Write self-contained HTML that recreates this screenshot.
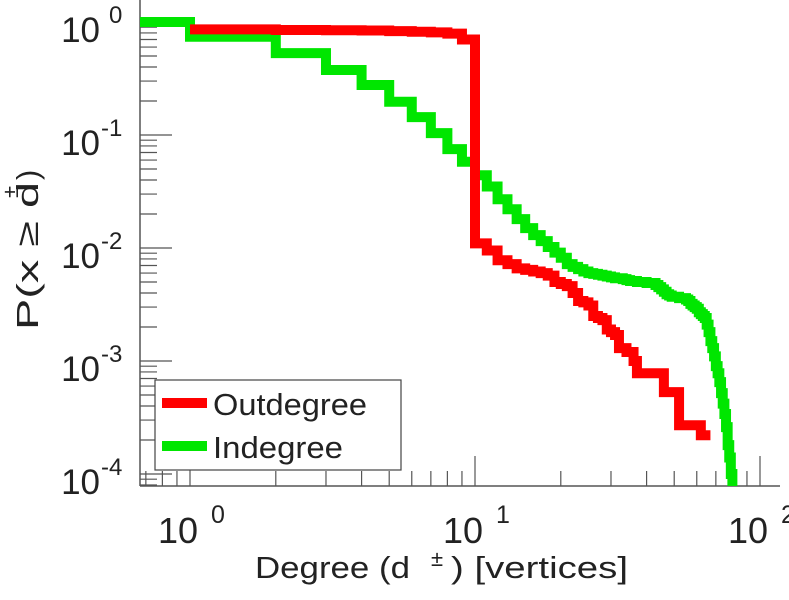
<!DOCTYPE html>
<html><head><meta charset="utf-8"><style>
html,body{margin:0;padding:0;background:#fff}
svg{display:block;font-family:"Liberation Sans",sans-serif}
</style></head><body>
<svg id="chart" width="789" height="600" viewBox="0 0 789 600" xmlns="http://www.w3.org/2000/svg">
<g id="axes"></g>
<g id="series"></g>
<g id="legend">
 <rect x="155" y="380" width="246" height="90" fill="#fff" stroke="#444" stroke-width="1.2"/>
 <line x1="162" y1="403" x2="207" y2="403" stroke="#ff0000" stroke-width="10"/>
 <text x="213" y="415" font-size="31" textLength="154" lengthAdjust="spacingAndGlyphs" fill="#222">Outdegree</text>
 <line x1="162" y1="446" x2="207" y2="446" stroke="#00e600" stroke-width="10"/>
 <text x="213" y="458" font-size="31" textLength="130" lengthAdjust="spacingAndGlyphs" fill="#222">Indegree</text>
</g>
<g>
<text x="255" y="578" font-size="31" fill="#222" textLength="155" lengthAdjust="spacingAndGlyphs">Degree (d</text>
<text x="431" y="566" font-size="22" fill="#222">±</text>
<text x="451" y="578" font-size="31" fill="#222" textLength="177" lengthAdjust="spacingAndGlyphs">) [vertices]</text>
</g>
<g transform="translate(38,330) rotate(-90)">
<text x="0" y="0" font-size="31" fill="#222" textLength="148" lengthAdjust="spacingAndGlyphs">P(x ≥ d</text>
<text x="132" y="-20" font-size="22" fill="#222">±</text>
<text x="150" y="0" font-size="31" fill="#222">)</text>
</g>
</svg>
<script>
const outDegrees = [1,2,3,4,5,6,7,8,9,10,11,12,13,14,15,16,17,18,19,20,21,22,23,24,25,26,27,28,29,30,31,32,33,34,35,36,37,38,39,40,41,42,43,44,45,46,47,48,49,50,51,52,53,54,55,56,57,58,59,60,61,62,63,64,65,66];
const outValues = [0.86,0.85,0.845,0.84,0.83,0.82,0.81,0.79,0.70,0.011,0.0095,0.0078,0.0072,0.0066,0.0064,0.0062,0.0060,0.0057,0.0050,0.0048,0.0046,0.0040,0.0034,0.0033,0.0031,0.0025,0.0024,0.0023,0.0019,0.0018,0.0017,0.0013,0.0013,0.0012,0.0012,0.0010,0.00078,0.00078,0.00078,0.00078,0.00078,0.00078,0.00078,0.00078,0.00078,0.00053,0.00053,0.00053,0.00053,0.00053,0.00053,0.00027,0.00027,0.00027,0.00027,0.00027,0.00027,0.00027,0.00027,0.00027,0.00027,0.00022,0.00022,0.00022,0.00022,0.00022];
const inDegrees = [1,2,3,4,5,6,7,8,9,10,11,12,13,14,15,16,17,18,19,20,21,22,23,24,25,26,27,28,29,30,31,32,33,34,35,36,37,38,39,40,41,42,43,44,45,46,47,48,49,50,51,52,53,54,55,56,57,58,59,60,61,62,63,64,65,66,67,68,69,70,71,72,73,74,75,76,77,78,79,80];
const inValues = [0.74,0.53,0.376,0.277,0.197,0.144,0.104,0.075,0.058,0.044,0.035,0.027,0.022,0.018,0.015,0.013,0.0115,0.0102,0.0091,0.0082,0.0072,0.0068,0.0065,0.0062,0.006,0.0059,0.0058,0.0057,0.0056,0.0055,0.0054,0.0054,0.0053,0.0052,0.0051,0.0051,0.0050,0.0050,0.0050,0.0049,0.0049,0.0049,0.0047,0.0045,0.0043,0.0041,0.0039,0.0038,0.0037,0.0037,0.0037,0.0036,0.0036,0.0036,0.0035,0.0034,0.0032,0.0031,0.0030,0.0029,0.0027,0.0026,0.0025,0.0024,0.0021,0.0018,0.0015,0.0013,0.0011,0.0009,0.00078,0.00065,0.00052,0.00042,0.00034,0.00026,0.00018,0.00014,0.0001,0.00007];
const xTickExps = [0,1,2];
const yTickExps = [0,-1,-2,-3,-4];

const NS="http://www.w3.org/2000/svg";
const X0=190, XD=285, Y0=22, YD=113;
const L=140, R=780, T=0, B=486;
function xs(v){return X0+XD*Math.log10(v);}
function ys(v){return Y0-YD*Math.log10(v);}
function mk(tag,attrs,parent){const e=document.createElementNS(NS,tag);for(const k in attrs)e.setAttribute(k,attrs[k]);parent.appendChild(e);return e;}
const axes=document.getElementById('axes');
const series=document.getElementById('series');

let ax=mk('line',{x1:L,y1:T,x2:L,y2:B,stroke:'#555','stroke-width':1.5},axes);


ax=mk('line',{x1:L,y1:B,x2:R,y2:B,stroke:'#555','stroke-width':1.5},axes);



for(let e=1;e>=-5;e--){
  for(let m=1;m<10;m++){
    const v=m*Math.pow(10,e-1)*10; const y=ys(v);
    if(y<T||y>B) continue;
    const len=m===1?32:17;
    const t=mk('line',{x1:L,y1:y,x2:L+len,y2:y,stroke:'#555','stroke-width':1.2},axes);
    
    
  }
}
yTickExps.forEach(e=>{
  const y=ys(Math.pow(10,e));
  const t=mk('text',{x:100,y:y+20,'text-anchor':'end','font-size':35,fill:'#222'},axes);
  
  
  t.textContent='10';
  const s=mk('text',{x:e<0?101:109,y:y+1,'font-size':24,fill:'#222'},axes);
  
  
  s.textContent=String(e);
});
for(let e=-1;e<=2;e++){
  for(let m=1;m<10;m++){
    const v=m*Math.pow(10,e); const x=xs(v);
    if(x<L||x>R) continue;
    const len=m===1?30:15;
    const t=mk('line',{x1:x,y1:B,x2:x,y2:B-len,stroke:'#555','stroke-width':1.2},axes);
    
    
  }
}
xTickExps.forEach(e=>{
  const x=xs(Math.pow(10,e));
  const t=mk('text',{x:x-32,y:543,'font-size':36,fill:'#222'},axes);
  
  
  t.textContent='10';
  const s=mk('text',{x:x+21,y:523,'font-size':25,fill:'#222'},axes);
  
  
  s.textContent=String(e);
});

const defs=mk('defs',{},series);
const cp=mk('clipPath',{id:'plotclip'},defs);
mk('rect',{x:L,y:0,width:R-L,height:B},cp);

function stepPath(ds,vs,startFromLeft){
  let d=startFromLeft?('M'+L+','+ys(1)+' L'+xs(ds[0])+','+ys(1)):('M'+xs(ds[0])+','+ys(vs[0]));
  for(let i=0;i<ds.length;i++){
    d+=' L'+xs(ds[i])+','+ys(vs[i])+' L'+xs(ds[i]+1)+','+ys(vs[i]);
  }
  return d;
}
let p=mk('path',{d:stepPath(inDegrees,inValues,true),fill:'none',stroke:'#00e600','stroke-width':10,'stroke-linejoin':'miter','clip-path':'url(#plotclip)'},series);


p=mk('path',{d:stepPath(outDegrees,outValues,false),fill:'none',stroke:'#ff0000','stroke-width':10,'stroke-linejoin':'miter','clip-path':'url(#plotclip)'},series);


document.getElementById('chart').appendChild(document.getElementById('legend'));
</script>
</body></html>
